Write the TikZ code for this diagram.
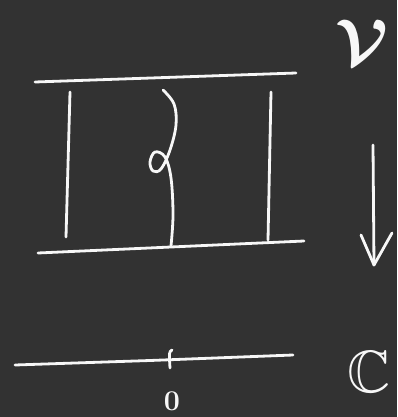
\documentclass[tikz,border=0pt]{standalone}
\usepackage{amssymb}
\usepackage{bm}
\definecolor{bg}{HTML}{323232}
\definecolor{chalk}{HTML}{F7F7F7}
\begin{document}
\begin{tikzpicture}[x=1pt,y=-1pt,
  stroke/.style={draw=chalk, line width=2.8pt, line cap=round, line join=round},
  lbl/.style={text=chalk, inner sep=0pt}]
\fill[bg] (0,0) rectangle (397,417);
\useasboundingbox (0,0) rectangle (397,417);
% rectangle of the strip
\draw[stroke] (35,82) -- (296,73);
\draw[stroke] (38,253) -- (304,241);
\draw[stroke] (70,92) -- (66,237);
\draw[stroke] (271,92) -- (268,240);
% twisted strand
\draw[stroke] plot[smooth, tension=0.6] coordinates {(163,90) (174,104) (176,125) (170,150) (161,169) (153,171) (150,162) (155,152) (165,157) (171,178) (173,215) (171,246)};
% arrow
\coordinate (atop) at (373,145);
\coordinate (atip) at (374,265);
\draw[stroke] (atop) -- (atip);
\draw[stroke] (361,235) -- (atip) -- (392,233);
% axis
\draw[stroke] (15,365) -- (150,360.5) -- (293,355);
\draw[stroke] (172,350) .. controls (169,352) .. (170,368);
% labels
\node[lbl, scale=2.6] (V) at (362,42) {\Huge$\bm{\mathcal{V}}$};
\node[lbl, scale=2.4] (C) at (369,372) {\Huge$\mathbb{C}$};
\node[lbl, scale=1.15] (zero) at (172,401) {\Huge$\bm{0}$};
\end{tikzpicture}
\end{document}
